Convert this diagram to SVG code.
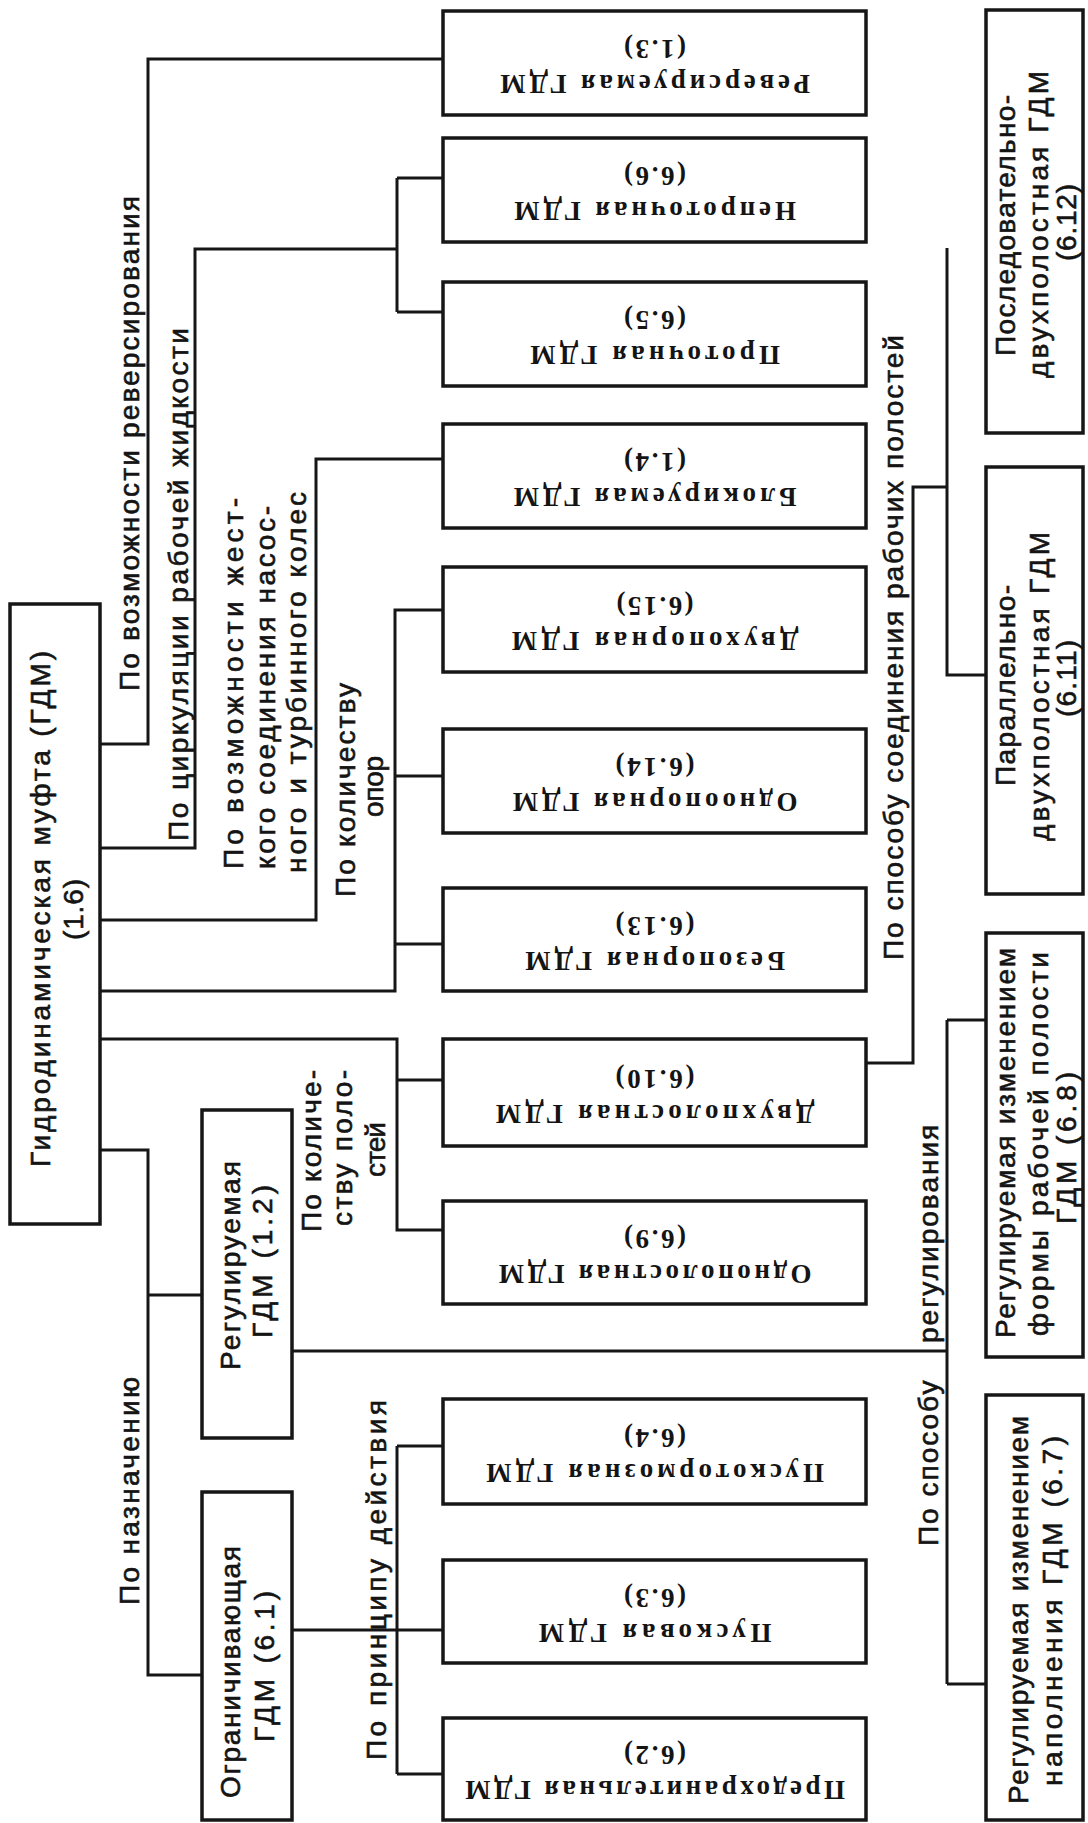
<svg xmlns="http://www.w3.org/2000/svg" width="1088" height="1823" viewBox="0 0 1088 1823">
<style>
.box{fill:#fff;stroke:#161616;stroke-width:3.5}
.ln{fill:none;stroke:#161616;stroke-width:3}
.lbl{font-family:"Liberation Sans",Arial,sans-serif;font-size:28px;fill:#141414;stroke:#141414;stroke-width:0.6}
.bt{font-family:"Liberation Serif","Times New Roman",serif;font-size:27px;font-weight:bold;fill:#141414;text-anchor:middle}
</style>
<rect width="1088" height="1823" fill="#fff"/>
<g id="connectors">
<path class="ln" d="M100 744H148V59H443"/>
<path class="ln" d="M100 848H195V249H397M397 178V312M397 178H443M397 312H443"/>
<path class="ln" d="M100 920H316V459H443"/>
<path class="ln" d="M100 991H395V610H443M395 776H443M395 944H443"/>
<path class="ln" d="M100 1039H397V1230H443M397 1080H443"/>
<path class="ln" d="M100 1150H148V1675H202M148 1295H202"/>
<path class="ln" d="M292 1351H947"/>
<path class="ln" d="M947 1020V1684M947 1020H986M947 1684H986"/>
<path class="ln" d="M292 1630H443M397 1446V1774M397 1446H443M397 1774H443"/>
<path class="ln" d="M866 1063H913V487H947M947 248V675H986"/>
</g>
<g id="labels">
<text class="lbl" transform="translate(139,0) rotate(-90)" x="-691" y="0" textLength="495" lengthAdjust="spacing">По возможности реверсирования</text>
<text class="lbl" transform="translate(188,0) rotate(-90)" x="-841" y="0" textLength="513" lengthAdjust="spacing">По циркуляции рабочей жидкости</text>
<text class="lbl" transform="translate(243,0) rotate(-90)" x="-869" y="0" textLength="371" lengthAdjust="spacing">По возможности жест-</text>
<text class="lbl" transform="translate(275,0) rotate(-90)" x="-869" y="0" textLength="363" lengthAdjust="spacing">кого соединения насос-</text>
<text class="lbl" transform="translate(306,0) rotate(-90)" x="-873" y="0" textLength="381" lengthAdjust="spacing">ного и турбинного колес</text>
<text class="lbl" transform="translate(355,0) rotate(-90)" x="-897" y="0" textLength="214" lengthAdjust="spacing">По количеству</text>
<text class="lbl" transform="translate(383,0) rotate(-90)" x="-817" y="0" textLength="61" lengthAdjust="spacing">опор</text>
<text class="lbl" transform="translate(321,0) rotate(-90)" x="-1232" y="0" textLength="162" lengthAdjust="spacing">По количе-</text>
<text class="lbl" transform="translate(352,0) rotate(-90)" x="-1226" y="0" textLength="156" lengthAdjust="spacing">ству поло-</text>
<text class="lbl" transform="translate(385,0) rotate(-90)" x="-1177" y="0" textLength="55" lengthAdjust="spacing">стей</text>
<text class="lbl" transform="translate(139,0) rotate(-90)" x="-1605" y="0" textLength="228" lengthAdjust="spacing">По назначению</text>
<text class="lbl" transform="translate(386,0) rotate(-90)" x="-1760" y="0" textLength="360" lengthAdjust="spacing">По принципу действия</text>
<text class="lbl" transform="translate(903,0) rotate(-90)" x="-960" y="0" textLength="625" lengthAdjust="spacing">По способу соединения рабочих полостей</text>
<text class="lbl" transform="translate(938,0) rotate(-90)" y="0" letter-spacing="2"><tspan x="-1546">По способу</tspan> <tspan x="-1343">регулирования</tspan></text>
</g>
<g id="n1_6"><rect class="box" x="10" y="604" width="90" height="620"/>
<text class="lbl" transform="translate(50,0) rotate(-90)" x="-1167" y="0" textLength="516" lengthAdjust="spacing">Гидродинамическая муфта (ГДМ)</text>
<text class="lbl" transform="translate(83,0) rotate(-90)" x="-940" y="0" textLength="61" lengthAdjust="spacing">(1.6)</text></g>
<g id="n1_2"><rect class="box" x="202" y="1110" width="90" height="328"/>
<text class="lbl" transform="translate(240,0) rotate(-90)" x="-1370" y="0" textLength="209" lengthAdjust="spacing">Регулируемая</text>
<text class="lbl" transform="translate(272,0) rotate(-90)" x="-1338" y="0" textLength="153" lengthAdjust="spacing">ГДМ (1.2)</text></g>
<g id="n6_1"><rect class="box" x="202" y="1492" width="90" height="328"/>
<text class="lbl" transform="translate(240,0) rotate(-90)" x="-1798" y="0" textLength="252" lengthAdjust="spacing">Ограничивающая</text>
<text class="lbl" transform="translate(274,0) rotate(-90)" x="-1742" y="0" textLength="151" lengthAdjust="spacing">ГДМ (6.1)</text></g>
<g id="n1_3"><rect class="box" x="443" y="11" width="423" height="104"/><g transform="rotate(180 655 63)"><text class="bt" x="655" y="51" textLength="310">Реверсируемая ГДМ</text><text class="bt" x="655" y="86" textLength="62">(1.3)</text></g></g>
<g id="n6_6"><rect class="box" x="443" y="138" width="423" height="104"/><g transform="rotate(180 655 190)"><text class="bt" x="655" y="178" textLength="282">Непроточная ГДМ</text><text class="bt" x="655" y="213" textLength="62">(6.6)</text></g></g>
<g id="n6_5"><rect class="box" x="443" y="282" width="423" height="104"/><g transform="rotate(180 655 334)"><text class="bt" x="655" y="322" textLength="250">Проточная ГДМ</text><text class="bt" x="655" y="357" textLength="62">(6.5)</text></g></g>
<g id="n1_4"><rect class="box" x="443" y="424" width="423" height="104"/><g transform="rotate(180 655 476)"><text class="bt" x="655" y="464" textLength="283">Блокируемая ГДМ</text><text class="bt" x="655" y="499" textLength="62">(1.4)</text></g></g>
<g id="n6_15"><rect class="box" x="443" y="567" width="423" height="105"/><g transform="rotate(180 655 619.5)"><text class="bt" x="655" y="607.5" textLength="287">Двухопорная ГДМ</text><text class="bt" x="655" y="642.5" textLength="77">(6.15)</text></g></g>
<g id="n6_14"><rect class="box" x="443" y="729" width="423" height="104"/><g transform="rotate(180 655 781)"><text class="bt" x="655" y="769" textLength="285">Одноопорная ГДМ</text><text class="bt" x="655" y="804" textLength="79">(6.14)</text></g></g>
<g id="n6_13"><rect class="box" x="443" y="888" width="423" height="103"/><g transform="rotate(180 655 939.5)"><text class="bt" x="655" y="927.5" textLength="260">Безопорная ГДМ</text><text class="bt" x="655" y="962.5" textLength="79">(6.13)</text></g></g>
<g id="n6_10"><rect class="box" x="443" y="1039" width="423" height="107"/><g transform="rotate(180 655 1092.5)"><text class="bt" x="655" y="1080.5" textLength="319">Двухполостная ГДМ</text><text class="bt" x="655" y="1115.5" textLength="79">(6.10)</text></g></g>
<g id="n6_9"><rect class="box" x="443" y="1201" width="423" height="103"/><g transform="rotate(180 655 1252.5)"><text class="bt" x="655" y="1240.5" textLength="313">Однополостная ГДМ</text><text class="bt" x="655" y="1275.5" textLength="62">(6.9)</text></g></g>
<g id="n6_4"><rect class="box" x="443" y="1399" width="423" height="105"/><g transform="rotate(180 655 1451.5)"><text class="bt" x="655" y="1439.5" textLength="338">Пускотормозная ГДМ</text><text class="bt" x="655" y="1474.5" textLength="62">(6.4)</text></g></g>
<g id="n6_3"><rect class="box" x="443" y="1560" width="423" height="103"/><g transform="rotate(180 655 1611.5)"><text class="bt" x="655" y="1599.5" textLength="233">Пусковая ГДМ</text><text class="bt" x="655" y="1634.5" textLength="62">(6.3)</text></g></g>
<g id="n6_2"><rect class="box" x="443" y="1718" width="423" height="102"/><g transform="rotate(180 655 1769)"><text class="bt" x="655" y="1757" textLength="380">Предохранительная ГДМ</text><text class="bt" x="655" y="1792" textLength="62">(6.2)</text></g></g>
<g id="n6_12"><rect class="box" x="986" y="10" width="97" height="423"/>
<text class="lbl" transform="translate(1015,0) rotate(-90)" x="-356" y="0" textLength="261" lengthAdjust="spacing">Последовательно-</text>
<text class="lbl" transform="translate(1048,0) rotate(-90)" x="-378" y="0" textLength="307" lengthAdjust="spacing">двухполостная ГДМ</text>
<text class="lbl" transform="translate(1076,0) rotate(-90)" x="-261" y="0" textLength="77" lengthAdjust="spacing">(6.12)</text></g>
<g id="n6_11"><rect class="box" x="986" y="467" width="97" height="427"/>
<text class="lbl" transform="translate(1015,0) rotate(-90)" x="-786" y="0" textLength="201" lengthAdjust="spacing">Параллельно-</text>
<text class="lbl" transform="translate(1049,0) rotate(-90)" x="-841" y="0" textLength="309" lengthAdjust="spacing">двухполостная ГДМ</text>
<text class="lbl" transform="translate(1076,0) rotate(-90)" x="-717" y="0" textLength="77" lengthAdjust="spacing">(6.11)</text></g>
<g id="n6_8"><rect class="box" x="986" y="933" width="97" height="424"/>
<text class="lbl" transform="translate(1015,0) rotate(-90)" x="-1338" y="0" textLength="390" lengthAdjust="spacing">Регулируемая изменением</text>
<text class="lbl" transform="translate(1048,0) rotate(-90)" x="-1336" y="0" textLength="384" lengthAdjust="spacing">формы рабочей полости</text>
<text class="lbl" transform="translate(1076,0) rotate(-90)" x="-1224" y="0" textLength="152" lengthAdjust="spacing">ГДМ (6.8)</text></g>
<g id="n6_7"><rect class="box" x="986" y="1395" width="97" height="425"/>
<text class="lbl" transform="translate(1028,0) rotate(-90)" x="-1804" y="0" textLength="388" lengthAdjust="spacing">Регулируемая изменением</text>
<text class="lbl" transform="translate(1062,0) rotate(-90)" x="-1786" y="0" textLength="350" lengthAdjust="spacing">наполнения ГДМ (6.7)</text></g>
</svg>
